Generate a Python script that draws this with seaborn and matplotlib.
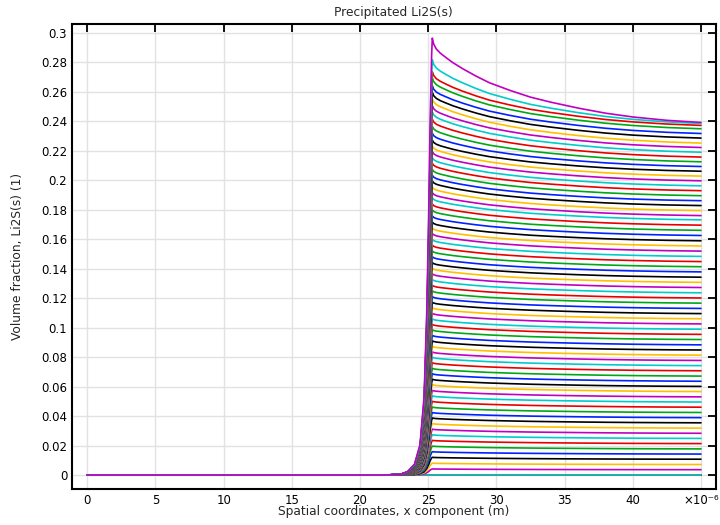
import numpy as np
import pandas as pd
import matplotlib
matplotlib.use("Agg")
import matplotlib.pyplot as plt
import seaborn as sns

# Value at the right end (x = 45 um) of each curve, ordered in time
end_values = [0.0, 0.0, 0.0, 0.0,
              0.0036, 0.0071, 0.0107, 0.0142, 0.0177, 0.0213, 0.0248, 0.0283, 0.0318, 0.0354,
              0.0389, 0.0424, 0.0460, 0.0495, 0.0530, 0.0566, 0.0601, 0.0636, 0.0671, 0.0707,
              0.0742, 0.0777, 0.0813, 0.0848, 0.0883, 0.0919, 0.0954, 0.0989, 0.1025, 0.1060,
              0.1095, 0.1130, 0.1166, 0.1201, 0.1236, 0.1272, 0.1307, 0.1342, 0.1378, 0.1413,
              0.1448, 0.1483, 0.1519, 0.1554, 0.1589, 0.1625, 0.1660, 0.1695, 0.1731, 0.1760,
              0.1794, 0.1828, 0.1861, 0.1895, 0.1929, 0.1962, 0.1996, 0.2028, 0.2061, 0.2093,
              0.2125, 0.2157, 0.2190, 0.2222, 0.2252, 0.2286, 0.2317, 0.2349, 0.2372, 0.2385, 0.2392]

# Peak value of each curve (at x ~ 25.3 um)
peak_values = [0.0, 0.0, 0.0, 0.0,
               0.0041, 0.0080, 0.0120, 0.0158, 0.0196, 0.0235, 0.0273, 0.0311, 0.0349, 0.0387,
               0.0424, 0.0461, 0.0500, 0.0537, 0.0574, 0.0613, 0.0650, 0.0687, 0.0724, 0.0762,
               0.0799, 0.0835, 0.0873, 0.0910, 0.0947, 0.0985, 0.1022, 0.1059, 0.1097, 0.1135,
               0.1172, 0.1210, 0.1249, 0.1287, 0.1326, 0.1365, 0.1403, 0.1441, 0.1481, 0.1520,
               0.1559, 0.1598, 0.1638, 0.1676, 0.1715, 0.1757, 0.1798, 0.1838, 0.1880, 0.1915,
               0.1954, 0.1994, 0.2033, 0.2073, 0.2114, 0.2153, 0.2193, 0.2232, 0.2271, 0.2318,
               0.2365, 0.2413, 0.2462, 0.2505, 0.2552, 0.2595, 0.2640, 0.2693, 0.2736, 0.2817, 0.2964]

# Rising front (x in um) as fraction of the peak
front_x = [0.0, 22.0, 23.0, 23.5, 24.0, 24.4, 24.7, 24.9, 25.05, 25.15, 25.25]
front_frac = [0.0, 0.0, 0.002, 0.008, 0.025, 0.07, 0.18, 0.38, 0.62, 0.82, 0.96]

# Decay after the peak, as fraction of (peak - end) remaining
decay_x = [25.3, 25.4, 25.6, 25.9, 26.3, 26.8, 27.5, 28.5, 29.5, 31.0, 32.5, 34.0, 36.0, 38.0, 40.0, 42.5, 45.0]
decay_frac = [1.0, 0.93, 0.87, 0.82, 0.77, 0.71, 0.64, 0.55, 0.47, 0.38, 0.30, 0.24, 0.17, 0.11, 0.065, 0.025, 0.0]

cycle_colors = ['#0022ff', '#00a818', '#e80000', '#00cccc', '#c000c0', '#ffbf00', '#000000']

x_ticks = [0, 5, 10, 15, 20, 25, 30, 35, 40, 45]
x_tick_labels = ['0', '5', '10', '15', '20', '25', '30', '35', '40', '×10⁻⁶']
y_ticks = [0, 0.02, 0.04, 0.06, 0.08, 0.1, 0.12, 0.14, 0.16, 0.18, 0.2, 0.22, 0.24, 0.26, 0.28, 0.3]
y_tick_labels = ['0', '0.02', '0.04', '0.06', '0.08', '0.1', '0.12', '0.14', '0.16', '0.18',
                 '0.2', '0.22', '0.24', '0.26', '0.28', '0.3']

rows = []
fx = np.array(front_x)
ff = np.array(front_frac)
dx = np.array(decay_x)
df_ = np.array(decay_frac)
for k, (p, e) in enumerate(zip(peak_values, end_values)):
    xs = np.concatenate([fx, dx])
    ys = np.concatenate([ff * p, e + (p - e) * df_])
    for xv, yv in zip(xs, ys):
        rows.append((f"L{k:02d}", xv, yv))
data = pd.DataFrame(rows, columns=["line", "x", "y"])
order = [f"L{k:02d}" for k in range(len(peak_values))]
palette = {name: cycle_colors[i % 7] for i, name in enumerate(order)}

sns.set_theme(style="white")
plt.rcParams['font.family'] = ['DejaVu Sans']

fig = plt.figure(figsize=(7.2, 5.25), dpi=100)
ax = fig.add_axes([0.1, 0.0686, 0.894, 0.8857])

sns.lineplot(data=data, x="x", y="y", hue="line", hue_order=order, palette=palette,
             legend=False, estimator=None, sort=False, linewidth=1.2, ax=ax)

ax.set_xlim(-1.12, 46.08)
ax.set_ylim(-0.0095, 0.306)
ax.set_xticks(x_ticks)
ax.set_xticklabels(x_tick_labels)
ax.set_yticks(y_ticks)
ax.set_yticklabels(y_tick_labels)
ax.grid(True, color='#e2e2e2', linewidth=1.0)
ax.set_axisbelow(True)
for s in ax.spines.values():
    s.set_color('black')
    s.set_linewidth(1.5)
ax.tick_params(direction='in', length=6, width=1.3, top=True, right=True,
               labelsize=8.5, pad=3.5, colors='black')
ax.set_xlabel('Spatial coordinates, x component (m)', fontsize=8.8, labelpad=-1)
ax.set_ylabel('Volume fraction, Li2S(s) (1)', fontsize=8.8, labelpad=12)
ax.set_title('Precipitated Li2S(s)', fontsize=8.8, pad=6)

fig.savefig("out.png", dpi=100)
